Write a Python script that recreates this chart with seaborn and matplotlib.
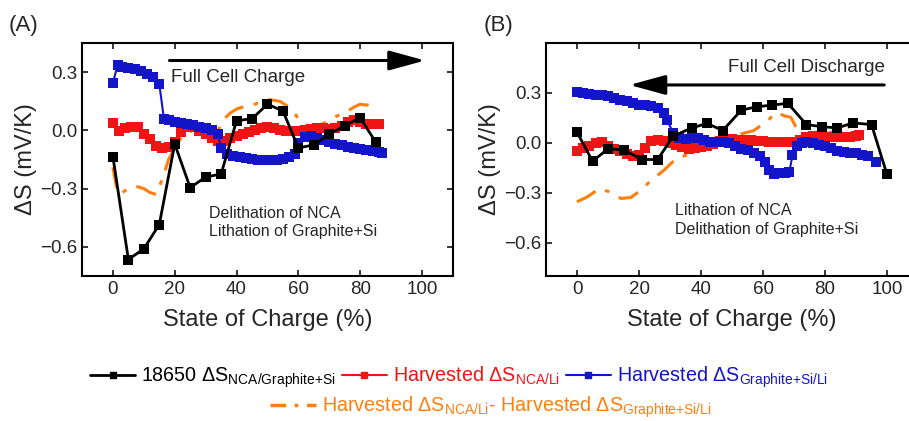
import numpy as np
import pandas as pd
import matplotlib
matplotlib.use('Agg')
import matplotlib.pyplot as plt
import seaborn as sns
from matplotlib.lines import Line2D

# ---- panel A (charge) ----
soc_a_full = [0, 5, 10, 15, 20, 25, 30, 35, 40, 45, 50, 55, 60, 65, 70, 75, 80, 85]
ds_a_full = [-0.135, -0.665, -0.61, -0.485, -0.07, -0.295, -0.24, -0.225, 0.05, 0.06,
             0.135, 0.10, -0.09, -0.075, -0.02, 0.025, 0.065, -0.06]

soc_a_nca = [0, 2, 4, 6, 8, 10, 12, 14, 16, 18, 20, 22, 24, 26, 28, 30, 32, 34, 36, 38, 40, 42,
             44, 46, 48, 50, 52, 54, 56, 58, 60, 62, 64, 66, 68, 70, 72, 74, 76, 78, 80, 82, 84, 86]
ds_a_nca = [0.04, -0.005, 0.01, 0.015, 0.015, -0.02, -0.045, -0.08, -0.09, -0.085, -0.06, -0.01,
            0.015, 0.02, -0.005, -0.02, -0.04, -0.055, -0.055, -0.04, -0.03, -0.02, -0.01, 0.0,
            0.01, 0.015, 0.01, 0.0, -0.005, -0.005, -0.005, 0.0, 0.005, 0.01, 0.01, 0.005, 0.01,
            0.025, 0.045, 0.055, 0.045, 0.035, 0.035, 0.035]

soc_a_gr = [0, 1.5, 3, 5, 7, 9, 11, 13, 15, 16.5, 18, 20, 22, 24, 26, 28, 30, 32, 34, 35, 37, 39,
            41, 43, 45, 47, 49, 51, 53, 55, 57, 59, 60, 62, 64, 66, 68, 70, 72, 74, 76, 78, 80,
            82, 84, 86, 87]
ds_a_gr = [0.245, 0.335, 0.325, 0.32, 0.315, 0.305, 0.29, 0.275, 0.24, 0.06, 0.055, 0.045, 0.04,
           0.035, 0.03, 0.02, 0.01, 0.0, -0.02, -0.09, -0.12, -0.13, -0.135, -0.14, -0.145, -0.15,
           -0.155, -0.155, -0.15, -0.145, -0.135, -0.12, -0.065, -0.035, -0.03, -0.04, -0.05,
           -0.06, -0.07, -0.075, -0.085, -0.09, -0.095, -0.1, -0.105, -0.11, -0.115]

soc_a_diff = [0, 1, 2, 4, 6, 8, 10, 12, 14, 16, 18, 20, 22, 24, 26, 28, 30, 32, 34, 36, 38, 40, 42,
              44, 46, 48, 50, 52, 54, 56, 58, 60, 62, 64, 66, 68, 70, 72, 74, 76, 78, 80, 82, 84, 86]
ds_a_diff = [-0.19, -0.28, -0.33, -0.31, -0.29, -0.29, -0.30, -0.32, -0.33, -0.25, -0.15, -0.09,
             -0.04, -0.01, 0.0, -0.01, -0.02, -0.035, 0.0, 0.06, 0.09, 0.11, 0.12, 0.125, 0.135,
             0.15, 0.16, 0.155, 0.15, 0.13, 0.105, 0.06, 0.03, 0.02, 0.025, 0.035, 0.05, 0.07,
             0.085, 0.1, 0.12, 0.135, 0.13, 0.14, 0.15]

# ---- panel B (discharge) ----
soc_b_full = [0, 5, 10, 15, 21, 26, 31, 37, 42, 47, 53, 58, 63, 68, 74, 79, 84, 89, 95, 100]
ds_b_full = [0.064, -0.11, -0.036, -0.042, -0.1, -0.1, 0.04, 0.09, 0.117, 0.074, 0.197, 0.217,
             0.227, 0.238, 0.11, 0.097, 0.09, 0.12, 0.11, -0.19]

soc_b_nca = [0, 2, 4, 6, 8, 10, 12, 14, 16, 18, 20, 22, 24, 26, 28, 30, 32, 34, 36, 38, 40, 42,
             44, 46, 48, 50, 52, 54, 56, 58, 60, 62, 64, 66, 68, 70, 72, 74, 76, 78, 80, 82, 84,
             86, 88, 90, 91]
ds_b_nca = [-0.046, -0.03, -0.016, 0.0, 0.004, -0.02, -0.035, -0.046, -0.065, -0.08, -0.075,
            -0.03, 0.012, 0.018, 0.014, 0.0, -0.01, -0.025, -0.036, -0.03, -0.026, -0.016,
            -0.006, 0.01, 0.024, 0.022, 0.02, 0.018, 0.016, 0.014, 0.012, 0.008, 0.004, 0.004,
            0.004, 0.004, 0.015, 0.035, 0.044, 0.04, 0.034, 0.034, 0.034, 0.034, 0.038, 0.044,
            0.046]

soc_b_gr = [0, 2, 4, 6, 8, 10, 12, 14, 16, 18, 20, 22, 24, 26, 28, 29, 31, 33, 35, 37, 39, 41,
            43, 45, 47, 49, 51, 53, 55, 57, 59, 60.5, 62, 63.5, 65, 67, 68.5, 69.5, 71, 72.5, 74,
            76, 78, 80, 82, 84, 86, 88, 90, 92, 94, 96.5]
ds_b_gr = [0.305, 0.30, 0.295, 0.29, 0.285, 0.28, 0.27, 0.26, 0.25, 0.24, 0.23, 0.225, 0.22,
           0.21, 0.18, 0.14, 0.06, 0.03, 0.024, 0.028, 0.03, 0.02, 0.008, 0.004, 0.008, 0.0,
           -0.02, -0.036, -0.045, -0.06, -0.08, -0.115, -0.165, -0.185, -0.18, -0.18, -0.175,
           -0.075, -0.016, 0.0, 0.004, 0.0, -0.01, -0.02, -0.03, -0.046, -0.052, -0.058, -0.062,
           -0.07, -0.08, -0.115]

soc_b_diff = [0, 3.4, 7.2, 10.4, 14.2, 17.4, 20.6, 24, 28, 32.5, 36.8, 41, 44.3, 48.6, 53, 57,
              61.5, 64.2, 66.9, 69, 71.2, 73.3, 77.6, 82, 86, 90]
ds_b_diff = [-0.354, -0.324, -0.274, -0.294, -0.334, -0.328, -0.284, -0.224, -0.165, -0.085,
             -0.07, -0.026, -0.006, 0.034, 0.054, 0.074, 0.133, 0.183, 0.163, 0.153, 0.074,
             0.034, 0.044, 0.064, 0.083, 0.113]

yticks = [-0.6, -0.3, 0.0, 0.3]
xticks = [0, 20, 40, 60, 80, 100]

c_full = 'black'
c_nca = '#f01414'
c_gr = '#1414c8'
c_diff = '#ff7f0e'
dashdot = (0, (7, 3.5, 1.5, 3.5))

sns.set_style('ticks')
plt.rcParams['font.family'] = ['Liberation Sans', 'DejaVu Sans']
plt.rcParams['mathtext.fontset'] = 'custom'
plt.rcParams['mathtext.rm'] = 'Liberation Sans'
plt.rcParams['mathtext.default'] = 'regular'

fig = plt.figure(figsize=(9.09, 4.21), dpi=100)
ax1 = fig.add_axes([0.0902, 0.3444, 0.4081, 0.5534])
ax2 = fig.add_axes([0.6007, 0.3444, 0.4092, 0.5534])


def draw(ax, full, nca, gr, diff):
    sns.lineplot(x=diff[0], y=diff[1], ax=ax, color=c_diff, lw=2.2, linestyle=dashdot, sort=False)
    sns.lineplot(x=nca[0], y=nca[1], ax=ax, color=c_nca, lw=1.5, marker='s', markersize=7.5,
                 markeredgewidth=0, sort=False)
    sns.lineplot(x=gr[0], y=gr[1], ax=ax, color=c_gr, lw=1.5, marker='s', markersize=7.5,
                 markeredgewidth=0, sort=False)
    sns.lineplot(x=full[0], y=full[1], ax=ax, color=c_full, lw=2, marker='s', markersize=7.5,
                 markeredgewidth=0, sort=False)
    ax.set_xlim(-10, 110)
    ax.set_xticks(xticks)
    ax.set_yticks(yticks)
    ax.set_yticklabels(['\u22120.6', '\u22120.3', '0.0', '0.3'])
    ax.tick_params(direction='in', top=True, right=True, length=4, width=1.3, labelsize=13.5)
    for s in ax.spines.values():
        s.set_linewidth(1.5)
        s.set_color('black')
    ax.set_xlabel('State of Charge (%)', fontsize=17, labelpad=8)
    ax.set_ylabel('\u0394S (mV/K)', fontsize=17, labelpad=2)


draw(ax1, (soc_a_full, ds_a_full), (soc_a_nca, ds_a_nca), (soc_a_gr, ds_a_gr), (soc_a_diff, ds_a_diff))
draw(ax2, (soc_b_full, ds_b_full), (soc_b_nca, ds_b_nca), (soc_b_gr, ds_b_gr), (soc_b_diff, ds_b_diff))
ax1.set_ylim(-0.75, 0.45)
ax2.set_ylim(-0.8, 0.6)

arrow = dict(arrowstyle='-|>,head_length=1.1,head_width=0.3', lw=2.2, color='black', mutation_scale=20,
             shrinkA=0, shrinkB=0)
ax1.annotate('', xy=(101, 0.36), xytext=(18.3, 0.36), arrowprops=arrow)
ax1.text(18.7, 0.27, 'Full Cell Charge', fontsize=13.5, va='center', ha='left')
ax1.text(31, -0.475, 'Delithation of NCA\nLithation of Graphite+Si', fontsize=11.5,
         va='center', ha='left', linespacing=1.3)

ax2.annotate('', xy=(16.9, 0.348), xytext=(99.1, 0.348), arrowprops=arrow)
ax2.text(99.4, 0.45, 'Full Cell Discharge', fontsize=13.5, va='center', ha='right')
ax2.text(31.7, -0.465, 'Lithation of NCA\nDelithation of Graphite+Si', fontsize=11.5,
         va='center', ha='left', linespacing=1.3)

fig.text(0.009, 0.94, '(A)', fontsize=16, va='center')
fig.text(0.532, 0.94, '(B)', fontsize=16, va='center')

h_full = Line2D([], [], color=c_full, lw=2, marker='s', markersize=5)
h_nca = Line2D([], [], color=c_nca, lw=1.5, marker='s', markersize=5)
h_gr = Line2D([], [], color=c_gr, lw=1.5, marker='s', markersize=5)
h_diff = Line2D([], [], color=c_diff, lw=2.5, linestyle=(0, (4.5, 2.5, 1, 2.5)))

labels_row1 = ['18650 \u0394S$_{NCA/Graphite{+}Si}$',
               'Harvested \u0394S$_{NCA/Li}$',
               'Harvested \u0394S$_{Graphite{+}Si/Li}$']
label_row2 = 'Harvested \u0394S$_{NCA/Li}$- Harvested \u0394S$_{Graphite{+}Si/Li}$'

leg1 = fig.legend([h_full, h_nca, h_gr], labels_row1, loc='center', bbox_to_anchor=(0.505, 0.103),
                  ncol=3, frameon=False, fontsize=14.2, handlelength=2.3, handletextpad=0.3,
                  columnspacing=0.3, borderpad=0)
leg2 = fig.legend([h_diff], [label_row2], loc='center', bbox_to_anchor=(0.54, 0.032),
                  frameon=False, fontsize=14.2, handlelength=2.3, handletextpad=0.3, borderpad=0)
for t, c in zip(leg1.get_texts(), [c_full, c_nca, c_gr]):
    t.set_color(c)
leg2.get_texts()[0].set_color(c_diff)

fig.savefig('out.png', dpi=100)
